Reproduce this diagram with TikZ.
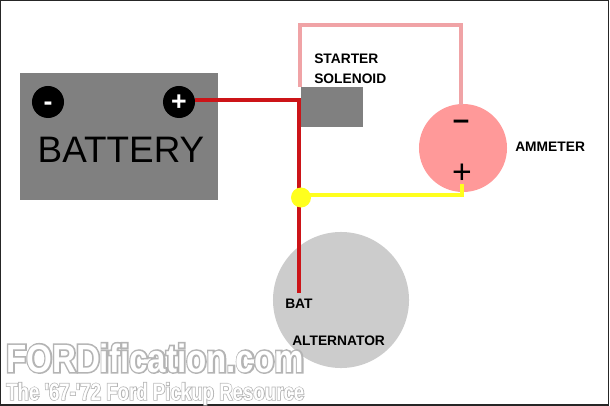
\documentclass[tikz,border=0pt]{standalone}
\usepackage{fontspec}
\setmainfont{Liberation Sans}
\newfontfamily\wmfont[FakeStretch=0.84]{Liberation Sans Bold}
\newfontfamily\wmfontfat[FakeStretch=0.84,FakeBold=8]{Liberation Sans Bold}
\newfontfamily\wmsubfont[FakeStretch=0.78]{Liberation Sans Bold}
\newfontfamily\wmsubfontfat[FakeStretch=0.78,FakeBold=6]{Liberation Sans Bold}
\usepackage{tikz}
\usetikzlibrary{positioning}
\definecolor{boxgray}{HTML}{808080}
\definecolor{redwirecol}{HTML}{CC1418}
\definecolor{pinkwirecol}{HTML}{F0A3A6}
\definecolor{ammcol}{HTML}{FF9999}
\definecolor{altcol}{HTML}{CCCCCC}
\definecolor{yellowcol}{HTML}{FFFF1E}
\definecolor{wmgray}{HTML}{B4B4B4}
\begin{document}
\begin{tikzpicture}[
    x=0.025cm, y=-0.025cm,
    graybox/.style={fill=boxgray, inner sep=0pt},
    terminal/.style={circle, fill=black, minimum size=0.8cm, inner sep=0pt, text=white, text height=12pt, text depth=0pt, font=\fontsize{19}{19}\selectfont\bfseries},
    wire/.style={line width=0.1cm},
    partlabel/.style={font=\fontsize{9.8}{12}\selectfont\bfseries, text=black, inner sep=0pt},
    ammsign/.style={font=\fontsize{21}{21}\selectfont\bfseries, inner sep=0pt}
  ]
  \useasboundingbox (0,0) rectangle (610,406);
  \draw[line width=0.04cm, black!85] (0.5,0.5) rectangle (608.5,405);

  % Battery
  \node[graybox, minimum width=4.95cm, minimum height=3.175cm] (battery) at (119,136.5) {};
  \node[terminal] (minusterm) at (48,102) {-};
  \node[terminal] (plusterm) at (179,102) {+};
  \node[font=\fontsize{26.2}{30}\selectfont, text=black, inner sep=0pt] (batterytext) at (121,150) {BATTERY};

  % Solenoid
  \node[graybox, minimum width=1.55cm, minimum height=1cm] (solenoid) at (332,107) {};
  \node[partlabel, anchor=west] (startertext) at (314,59) {STARTER};
  \node[partlabel, anchor=west] (solenoidtext) at (314,79) {SOLENOID};

  % Ammeter
  \node[circle, fill=ammcol, minimum size=2.2cm, inner sep=0pt] (ammeter) at (463,148) {};
  \node[ammsign] (ammminus) at (461,125) {–};
  \node[ammsign, font=\fontsize{24}{24}\selectfont] (ammplus) at (462,174) {+};
  \node[partlabel, anchor=west] (ammetertext) at (515,147) {AMMETER};

  % Alternator
  \node[circle, fill=altcol, minimum size=3.4cm, inner sep=0pt] (alternator) at (341,300) {};
  \node[partlabel, anchor=west] (battext) at (285,304) {BAT};
  \node[partlabel, anchor=west] (alternatortext) at (292,341) {ALTERNATOR};

  % Wire ends
  \coordinate (redcorner) at (299,100);
  \coordinate (batpin) at (299,293);
  \coordinate (pinkstart) at (300,87);
  \coordinate (pinkleft) at (300,25);
  \coordinate (pinkright) at (461,25);
  \coordinate (ammtop) at (461,105);
  \coordinate (yellowcorner) at (462,195);
  \coordinate (ammbottom) at (462,184);

  % Wires
  \draw[wire, pinkwirecol] (pinkstart) -- (pinkleft) -- (pinkright) -- (ammtop);
  \draw[wire, redwirecol] (plusterm.east |- redcorner) -- (redcorner) -- (batpin);
  \node[circle, fill=yellowcol, minimum size=0.5cm, inner sep=0pt] (junction) at (301,197.5) {};
  \draw[wire, yellowcol] (junction.center) -- (junction.center |- yellowcorner) -- (yellowcorner) -- (ammbottom);

  % Watermark
  \node[anchor=base west, inner sep=0pt, font=\fontsize{28}{28}\selectfont] (wmtitle) at (6,372)
    {\rlap{\wmfontfat\color{wmgray}FORDification.com}{\wmfont\color{white}FORDification.com}};
  \node[anchor=base west, inner sep=0pt, font=\fontsize{17}{17}\selectfont] (wmsub) at (6,400)
    {\rlap{\wmsubfontfat\color{wmgray}The '67-'72 Ford Pickup Resource}{\wmsubfont\color{white}The '67-'72 Ford Pickup Resource}};
\end{tikzpicture}
\end{document}
